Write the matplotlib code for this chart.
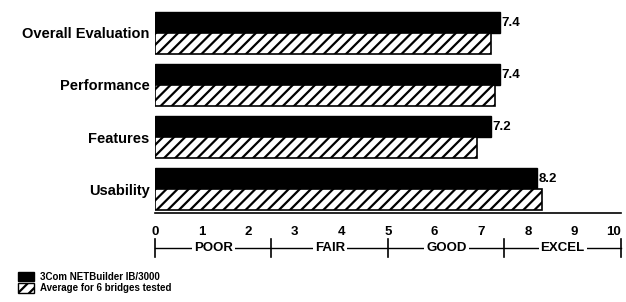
import numpy as np
import matplotlib.pyplot as plt
import matplotlib
from matplotlib.patches import Patch

matplotlib.rcParams['font.family'] = ['Liberation Sans', 'DejaVu Sans']
matplotlib.rcParams['hatch.linewidth'] = 1.6

# ratings
categories = ['Overall Evaluation', 'Performance', 'Features', 'Usability']
netbuilder = [7.4, 7.4, 7.2, 8.2]
average = [7.2, 7.3, 6.9, 8.3]
ratings = ['POOR', 'FAIR', 'GOOD', 'EXCEL']
series_names = ['3Com NETBuilder IB/3000', 'Average for 6 bridges tested']

fig = plt.figure(figsize=(6.26, 3.02), dpi=100)
ax = fig.add_axes([0.2476, 0.2947, 0.7444, 0.672])

y = np.arange(len(categories))
h = 0.4
ax.barh(y - h/2, netbuilder, h, color='black', edgecolor='black')
ax.barh(y + h/2, average, h, color='white', edgecolor='black', hatch='///', lw=1.2)

for yi, v in zip(y, netbuilder):
  ax.text(v + 0.03, yi - h/2, str(v), va='center', ha='left',
          fontsize=9.5, fontweight='bold')

ax.set_xlim(0, 10)
ax.set_ylim(3.46, -0.44)
ax.set_yticks(y)
ax.set_yticklabels(categories, fontsize=10.5, fontweight='bold')
ax.tick_params(axis='y', length=0, pad=4)
ax.set_xticks(range(11))
ax.set_xticklabels([str(i) for i in range(11)], fontsize=9.5, fontweight='bold')
ax.tick_params(axis='x', length=0, pad=9)
ax.get_xticklabels()[-1].set_horizontalalignment('right')
for s in ['top', 'right', 'left']:
  ax.spines[s].set_visible(False)
ax.spines['bottom'].set_linewidth(1.2)

# rating scale bracket under the numbers
tr = ax.get_xaxis_transform()
yb = -0.172
ax.plot([0, 10], [yb, yb], color='black', lw=1, transform=tr, clip_on=False)
for xb in [0, 2.5, 5, 7.5, 10]:
  ax.plot([xb, xb], [yb + 0.045, yb - 0.045], color='black', lw=1.2,
          transform=tr, clip_on=False)
for i, r in enumerate(ratings):
  ax.text(2.5*i + 1.25, yb, r, transform=tr, ha='center', va='center',
          fontsize=9.5, fontweight='bold',
          bbox=dict(facecolor='white', edgecolor='none', pad=1.5))

handles = [Patch(facecolor='black', edgecolor='black'),
           Patch(facecolor='white', edgecolor='black', hatch='///')]
fig.legend(handles, series_names, loc='lower left', bbox_to_anchor=(0.015, 0.0),
           frameon=False, prop={'size': 7, 'weight': 'bold'}, handlelength=1.6,
           handleheight=1.1, handletextpad=0.6, labelspacing=0.15)

plt.savefig('out.png')
